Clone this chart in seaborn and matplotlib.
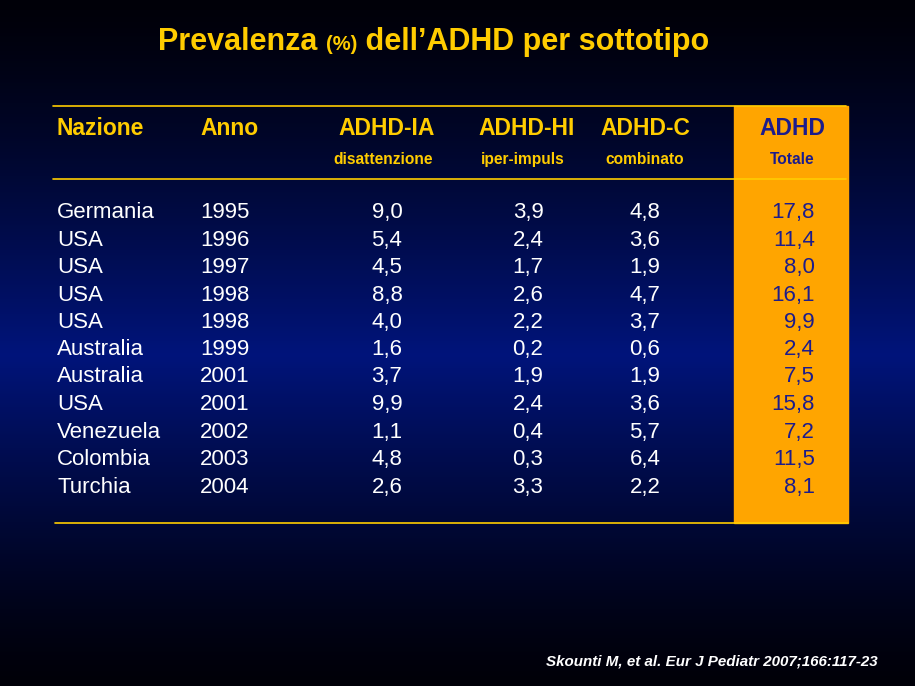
import matplotlib
matplotlib.use("Agg")
import matplotlib.pyplot as plt
import numpy as np
import seaborn as sns

# Data from the slide (Skounti M, et al. Eur J Pediatr 2007)
countries = ["Germania", "USA", "USA", "USA", "USA", "Australia", "Australia",
             "USA", "Venezuela", "Colombia", "Turchia"]
years = [1995, 1996, 1997, 1998, 1998, 1999, 2001, 2001, 2002, 2003, 2004]
adhd_ia = [9.0, 5.4, 4.5, 8.8, 4.0, 1.6, 3.7, 9.9, 1.1, 4.8, 2.6]
adhd_hi = [3.9, 2.4, 1.7, 2.6, 2.2, 0.2, 1.9, 2.4, 0.4, 0.3, 3.3]
adhd_c = [4.8, 3.6, 1.9, 4.7, 3.7, 0.6, 1.9, 3.6, 5.7, 6.4, 2.2]
adhd_tot = [17.8, 11.4, 8.0, 16.1, 9.9, 2.4, 7.5, 15.8, 7.2, 11.5, 8.1]

headers = ["Nazione", "Anno", "ADHD-IA", "ADHD-HI", "ADHD-C", "ADHD"]
subheaders = ["", "", "disattenzione", "iper-impuls", "combinato", "Totale"]

sns.set_theme(style="white")
plt.rcParams["font.family"] = ["Liberation Sans", "DejaVu Sans"]

YELLOW = "#FFCC00"
ORANGE = "#FFA500"
DARKBLUE = "#1C1C8C"


def fmt(v):
    return f"{v:.1f}".replace(".", ",")


fig = plt.figure(figsize=(9.15, 6.86), dpi=100)
ax = fig.add_axes([0, 0, 1, 1])
ax.set_xlim(0, 915)
ax.set_ylim(686, 0)
ax.axis("off")

# background: vertical gradient black -> navy -> black
yy = np.linspace(0, 686, 400)
peak = 355
t = np.where(yy < peak, yy / peak, (686 - yy) / (686 - peak))
t = np.clip(t, 0, 1) ** 1.3
grad = np.zeros((400, 1, 3))
grad[:, 0, 1] = 20 / 255 * t
grad[:, 0, 2] = (8 + 115 * t) / 255
ax.imshow(grad, extent=[0, 915, 686, 0], aspect="auto", zorder=0)

# title
fig.canvas.draw()
renderer = fig.canvas.get_renderer()
parts = [("Prevalenza ", 22), ("(%)", 14.5), (" dell\u2019ADHD per sottotipo", 22)]
x = 158
for txt, size in parts:
    tx = ax.text(x, 50, txt, color=YELLOW, fontsize=size, fontweight="bold",
                 ha="left", va="baseline", zorder=3)
    bb = tx.get_window_extent(renderer)
    x += bb.width

# orange total column
ax.add_patch(plt.Rectangle((734, 106), 114, 417, color=ORANGE, zorder=1))

# rules
ax.plot([53, 846], [106, 106], color=YELLOW, lw=1.2, zorder=2)
ax.plot([53, 846], [179, 179], color=YELLOW, lw=1.2, zorder=2)
ax.plot([55, 848], [523, 523], color=YELLOW, lw=1.2, zorder=2)

# header
col_x = [57, 200, 387, 527, 645, 792]
col_ha = ["left", "left", "center", "center", "center", "center"]
for i, h in enumerate(headers):
    c = DARKBLUE if i == 5 else YELLOW
    ax.text(col_x[i], 135, h, color=c, fontsize=16.5, fontweight="bold",
            ha=col_ha[i], va="baseline", zorder=3)
    if subheaders[i]:
        sx = col_x[i] - 4 if i in (2, 3) else col_x[i]
        ax.text(sx, 164, subheaders[i], color=c, fontsize=11.2, fontweight="bold",
                ha="center", va="baseline", zorder=3)

# rows
row_y = [218, 246, 273, 301, 328, 355, 382, 410, 438, 465, 493]
for k in range(len(countries)):
    y = row_y[k]
    kw = dict(fontsize=16, va="baseline", zorder=3)
    ax.text(57, y, countries[k], color="white", ha="left", **kw)
    ax.text(200, y, str(years[k]), color="white", ha="left", **kw)
    ax.text(387, y, fmt(adhd_ia[k]), color="white", ha="center", **kw)
    ax.text(528, y, fmt(adhd_hi[k]), color="white", ha="center", **kw)
    ax.text(645, y, fmt(adhd_c[k]), color="white", ha="center", **kw)
    ax.text(815, y, fmt(adhd_tot[k]), color=DARKBLUE, ha="right", **kw)

# source
ax.text(878, 666, "Skounti M, et al. Eur J Pediatr 2007;166:117-23", color="white",
        fontsize=10.9, fontweight="bold", fontstyle="italic", ha="right",
        va="baseline", zorder=3)

fig.savefig("out.png", dpi=100)
